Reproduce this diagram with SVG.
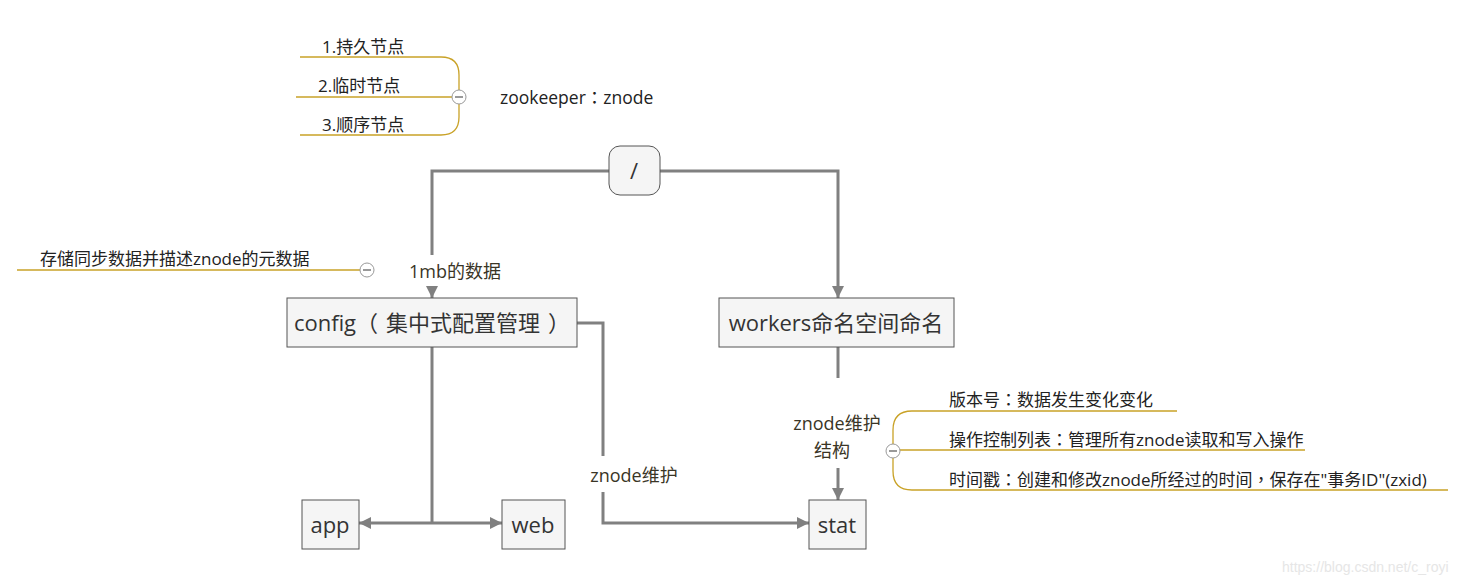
<svg xmlns="http://www.w3.org/2000/svg" width="1477" height="586" viewBox="0 0 1477 586">
<style>
.box{fill:#f5f5f5;stroke:#555;stroke-width:1}
.nt{font-family:"Open Sans","Noto Sans CJK SC",sans-serif;font-size:22px;fill:#333;text-anchor:middle}
.lbl{font-family:"Open Sans","Noto Sans CJK SC",sans-serif;font-size:18px;fill:#3a3526;text-anchor:middle}
.mm{font-family:"Open Sans","Noto Sans CJK SC",sans-serif;font-size:17px;fill:#222}
.p{font-family:"Noto Sans CJK TC",sans-serif}
.conn{fill:none;stroke:#808080;stroke-width:3}
.br{fill:none;stroke:#c9a227;stroke-width:1.3}
.col{fill:#fff;stroke:#999;stroke-width:1}
.minus{stroke:#555;stroke-width:1.2}
</style>
<defs>
<marker id="ah" viewBox="0 0 12 12" refX="12" refY="6" markerWidth="12" markerHeight="12" markerUnits="userSpaceOnUse" orient="auto">
<path d="M0,0 L12,6 L0,12 Z" fill="#808080"/>
</marker>
</defs>
<rect width="1477" height="586" fill="#fff"/>

<g id="connectors">
<path class="conn" d="M609,171 H432 V255"/>
<path class="conn" d="M432,286 V298" marker-end="url(#ah)"/>
<path class="conn" d="M660,171 H838 V298" marker-end="url(#ah)"/>
<path class="conn" d="M432,347 V523"/>
<path class="conn" d="M432,523 H359" marker-end="url(#ah)"/>
<path class="conn" d="M432,523 H502" marker-end="url(#ah)"/>
<path class="conn" d="M577,323 H603 V456"/>
<path class="conn" d="M603,492 V523 H809" marker-end="url(#ah)"/>
<path class="conn" d="M838,347 V378"/>
<path class="conn" d="M838,468 V500" marker-end="url(#ah)"/>
<text class="lbl" x="455" y="278">1mb的数据</text>
<text class="lbl" x="634" y="482">znode维护</text>
<text class="lbl" x="837" y="430">znode维护</text>
<text class="lbl" x="832" y="457">结构</text>
</g>

<g id="root">
<rect x="609" y="146" width="51" height="49" rx="11" class="box"/>
<text class="nt" x="634" y="179">/</text>
</g>
<g id="config">
<rect x="287" y="298" width="290" height="49" class="box"/>
<text class="nt" x="432" y="331">config（<tspan dx="8">集中式配置管理</tspan><tspan dx="8">）</tspan></text>
</g>
<g id="workers">
<rect x="719" y="298" width="235" height="49" class="box"/>
<text class="nt" x="836" y="331">workers命名空间命名</text>
</g>
<g id="app">
<rect x="302" y="500" width="57" height="49" class="box"/>
<text class="nt" x="330" y="533">app</text>
</g>
<g id="web">
<rect x="502" y="500" width="63" height="49" class="box"/>
<text class="nt" x="533" y="533">web</text>
</g>
<g id="stat">
<rect x="809" y="500" width="57" height="49" class="box"/>
<text class="nt" x="837" y="533">stat</text>
</g>

<g id="zookeeper-map">
<path class="br" d="M459,90 V75 Q459,57 441,57 H300"/>
<path class="br" d="M452,97 H296"/>
<path class="br" d="M459,104 V117 Q459,135 441,135 H300"/>
<circle class="col" cx="459" cy="97" r="7"/>
<line class="minus" x1="455" y1="97" x2="463" y2="97"/>
<text class="mm" x="322" y="53">1.持久节点</text>
<text class="mm" x="318" y="92">2.临时节点</text>
<text class="mm" x="322" y="131">3.顺序节点</text>
<text class="mm" x="500" y="104" style="font-size:17.5px">zookeeper<tspan class="p">：</tspan>znode</text>
</g>

<g id="meta-map">
<path class="br" d="M360,270 H17"/>
<circle class="col" cx="367" cy="270" r="7"/>
<line class="minus" x1="363" y1="270" x2="371" y2="270"/>
<text class="mm" x="40" y="265">存储同步数据并描述znode的元数据</text>
</g>

<g id="stat-map">
<path class="br" d="M893,444 V430 Q893,411 912,411 H1177"/>
<path class="br" d="M900,450 H1305"/>
<path class="br" d="M893,458 V471 Q893,490 912,490 H1448"/>
<circle class="col" cx="893" cy="451" r="7"/>
<line class="minus" x1="889" y1="451" x2="897" y2="451"/>
<text class="mm" x="949" y="406">版本号<tspan class="p">：</tspan>数据发生变化变化</text>
<text class="mm" x="949" y="446">操作控制列表<tspan class="p">：</tspan>管理所有znode读取和写入操作</text>
<text class="mm" x="949" y="486">时间戳<tspan class="p">：</tspan>创建和修改znode所经过的时间<tspan class="p">，</tspan>保存在"事务ID"(zxid)</text>
</g>

<text x="1282" y="572" style="font-family:'Liberation Sans',sans-serif;font-size:14px;fill:#e6e6e6">https://blog.csdn.net/c_royi</text>
</svg>
